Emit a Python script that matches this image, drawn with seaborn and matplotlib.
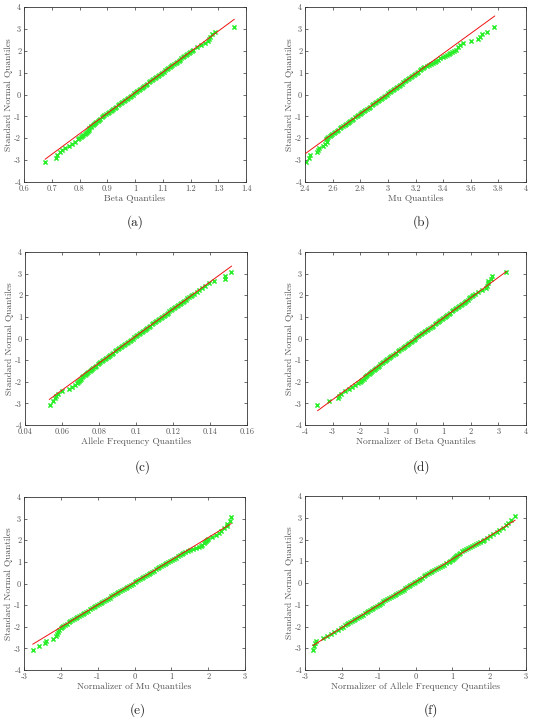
import matplotlib
matplotlib.use("Agg")
import matplotlib.pyplot as plt
import seaborn as sns

# standard normal quantiles (shared y for all six panels)
normal_q = [-3.09, -2.88, -2.75, -2.65, -2.55, -2.45, -2.35, -2.25, -2.15, -2.05,
            -1.95, -1.85, -1.75, -1.65, -1.55, -1.45, -1.35, -1.25, -1.15, -1.05,
            -0.95, -0.85, -0.75, -0.65, -0.55, -0.45, -0.35, -0.25, -0.15, -0.05,
            0.05, 0.15, 0.25, 0.35, 0.45, 0.55, 0.65, 0.75, 0.85, 0.95,
            1.05, 1.15, 1.25, 1.35, 1.45, 1.55, 1.65, 1.75, 1.85, 1.95,
            2.05, 2.15, 2.25, 2.35, 2.45, 2.55, 2.65, 2.75, 2.88, 3.09]
# extra quantiles in the dense middle of the distribution
normal_q_mid = [-2.0, -1.9, -1.8, -1.7, -1.6, -1.5, -1.4, -1.3, -1.2, -1.1,
                -1.0, -0.9, -0.8, -0.7, -0.6, -0.5, -0.4, -0.3, -0.2, -0.1,
                0.0, 0.1, 0.2, 0.3, 0.4, 0.5, 0.6, 0.7, 0.8, 0.9,
                1.0, 1.1, 1.2, 1.3, 1.4, 1.5, 1.6, 1.7, 1.8, 1.9, 2.0]

beta_q = [0.675, 0.715, 0.720, 0.729, 0.738, 0.748, 0.761, 0.772, 0.782, 0.793,
          0.804, 0.814, 0.823, 0.830, 0.836, 0.843, 0.852, 0.860, 0.869, 0.880,
          0.890, 0.901, 0.912, 0.922, 0.933, 0.944, 0.954, 0.965, 0.976, 0.986,
          0.997, 1.008, 1.018, 1.029, 1.040, 1.050, 1.061, 1.071, 1.082, 1.093,
          1.103, 1.114, 1.125, 1.135, 1.146, 1.157, 1.167, 1.178, 1.189, 1.199,
          1.210, 1.225, 1.238, 1.252, 1.262, 1.268, 1.272, 1.278, 1.290, 1.358]
beta_q_mid = [0.799, 0.809, 0.819, 0.826, 0.833, 0.840, 0.847, 0.856, 0.865, 0.874,
              0.885, 0.896, 0.906, 0.917, 0.928, 0.938, 0.949, 0.960, 0.970, 0.981,
              0.992, 1.002, 1.013, 1.024, 1.034, 1.045, 1.055, 1.066, 1.077, 1.087,
              1.096, 1.107, 1.118, 1.130, 1.141, 1.151, 1.162, 1.173, 1.183, 1.194, 1.205]

mu_q = [2.405, 2.430, 2.436, 2.490, 2.495, 2.500, 2.530, 2.545, 2.556, 2.550,
        2.568, 2.588, 2.610, 2.631, 2.653, 2.675, 2.697, 2.718, 2.740, 2.762,
        2.784, 2.806, 2.827, 2.849, 2.871, 2.893, 2.915, 2.936, 2.958, 2.980,
        3.002, 3.024, 3.046, 3.067, 3.089, 3.111, 3.133, 3.155, 3.176, 3.198,
        3.220, 3.242, 3.264, 3.300, 3.325, 3.350, 3.380, 3.415, 3.440, 3.465,
        3.490, 3.505, 3.520, 3.547, 3.600, 3.655, 3.667, 3.680, 3.720, 3.770]
mu_q_mid = [2.558, 2.578, 2.598, 2.620, 2.642, 2.664, 2.686, 2.708, 2.729, 2.751,
            2.773, 2.795, 2.816, 2.838, 2.860, 2.882, 2.904, 2.925, 2.947, 2.969,
            2.991, 3.013, 3.035, 3.057, 3.078, 3.100, 3.122, 3.144, 3.166, 3.187,
            3.209, 3.231, 3.253, 3.282, 3.312, 3.338, 3.365, 3.398, 3.428, 3.452, 3.478]

allele_q = [0.0535, 0.0551, 0.0560, 0.0568, 0.0580, 0.0600, 0.0640, 0.0655, 0.0670, 0.0680,
            0.0690, 0.0703, 0.0716, 0.0728, 0.0742, 0.0756, 0.0770, 0.0785, 0.0798, 0.0814,
            0.0830, 0.0846, 0.0862, 0.0878, 0.0894, 0.0910, 0.0926, 0.0942, 0.0958, 0.0974,
            0.0990, 0.1006, 0.1022, 0.1038, 0.1054, 0.1070, 0.1086, 0.1102, 0.1118, 0.1134,
            0.1150, 0.1166, 0.1181, 0.1197, 0.1213, 0.1229, 0.1245, 0.1261, 0.1277, 0.1295,
            0.1312, 0.1328, 0.1342, 0.1356, 0.1372, 0.1392, 0.1420, 0.1480, 0.1480, 0.1515]
allele_q_mid = [0.0685, 0.0697, 0.0710, 0.0722, 0.0735, 0.0749, 0.0763, 0.0778, 0.0792, 0.0806,
                0.0822, 0.0838, 0.0854, 0.0870, 0.0886, 0.0902, 0.0918, 0.0934, 0.0950, 0.0966,
                0.0982, 0.0998, 0.1014, 0.1030, 0.1046, 0.1062, 0.1078, 0.1094, 0.1110, 0.1126,
                0.1142, 0.1158, 0.1173, 0.1189, 0.1205, 0.1221, 0.1237, 0.1253, 0.1269, 0.1286, 0.1303]

norm_beta_q = [-3.55, -3.12, -2.80, -2.78, -2.70, -2.55, -2.42, -2.30, -2.18, -2.07,
               -1.97, -1.87, -1.78, -1.69, -1.60, -1.51, -1.42, -1.32, -1.22, -1.12,
               -1.02, -0.92, -0.81, -0.70, -0.58, -0.47, -0.37, -0.27, -0.17, -0.07,
               0.03, 0.14, 0.25, 0.36, 0.47, 0.58, 0.69, 0.80, 0.90, 1.00,
               1.10, 1.20, 1.31, 1.42, 1.53, 1.64, 1.74, 1.84, 1.94, 2.04,
               2.14, 2.28, 2.42, 2.56, 2.58, 2.62, 2.64, 2.72, 2.76, 3.28]
norm_beta_q_mid = [-2.02, -1.92, -1.83, -1.74, -1.65, -1.56, -1.47, -1.37, -1.27, -1.17,
                   -1.07, -0.97, -0.87, -0.76, -0.64, -0.52, -0.42, -0.32, -0.22, -0.12,
                   -0.02, 0.08, 0.19, 0.30, 0.41, 0.52, 0.63, 0.74, 0.85, 0.95,
                   1.05, 1.15, 1.25, 1.36, 1.47, 1.58, 1.69, 1.79, 1.89, 1.99, 2.09]

norm_mu_q = [-2.76, -2.58, -2.43, -2.40, -2.22, -2.14, -2.10, -2.07, -2.05, -2.00,
             -1.93, -1.84, -1.74, -1.65, -1.55, -1.45, -1.36, -1.257, -1.160, -1.063,
             -0.967, -0.870, -0.773, -0.677, -0.580, -0.483, -0.387, -0.290, -0.193, -0.097,
             0.000, 0.097, 0.192, 0.288, 0.385, 0.482, 0.578, 0.675, 0.772, 0.868,
             0.965, 1.062, 1.17, 1.28, 1.38, 1.50, 1.68, 1.80, 1.88, 1.94,
             2.00, 2.10, 2.22, 2.30, 2.36, 2.42, 2.50, 2.52, 2.59, 2.61]
norm_mu_q_mid = [-1.98, -1.88, -1.79, -1.69, -1.60, -1.50, -1.40, -1.31, -1.208, -1.112,
                 -1.015, -0.918, -0.822, -0.725, -0.628, -0.532, -0.435, -0.338, -0.242, -0.145,
                 -0.048, 0.048, 0.145, 0.240, 0.337, 0.433, 0.530, 0.627, 0.723, 0.820,
                 0.917, 1.013, 1.115, 1.225, 1.33, 1.44, 1.59, 1.74, 1.84, 1.91, 1.97]

norm_allele_q = [-2.79, -2.76, -2.74, -2.70, -2.52, -2.40, -2.30, -2.20, -2.11, -2.01,
                 -1.92, -1.82, -1.72, -1.63, -1.54, -1.43, -1.33, -1.24, -1.15, -1.05,
                 -0.96, -0.87, -0.77, -0.67, -0.57, -0.47, -0.37, -0.28, -0.19, -0.10,
                 -0.01, 0.09, 0.18, 0.27, 0.37, 0.46, 0.55, 0.66, 0.78, 0.90,
                 0.98, 1.04, 1.10, 1.17, 1.26, 1.36, 1.48, 1.60, 1.70, 1.82,
                 1.93, 2.02, 2.11, 2.20, 2.28, 2.37, 2.45, 2.52, 2.60, 2.71]
norm_allele_q_mid = [-1.96, -1.87, -1.77, -1.68, -1.58, -1.48, -1.38, -1.28, -1.19, -1.10,
                     -1.00, -0.91, -0.82, -0.72, -0.62, -0.52, -0.42, -0.32, -0.23, -0.14,
                     -0.05, 0.04, 0.13, 0.22, 0.32, 0.41, 0.50, 0.60, 0.72, 0.84,
                     0.94, 1.01, 1.07, 1.13, 1.21, 1.31, 1.42, 1.54, 1.65, 1.76, 1.87]

# reference line end points (x, y)
ref_lines = {
    "a": ([0.676, 1.358], [-2.96, 3.44]),
    "b": ([2.405, 3.774], [-2.69, 3.59]),
    "c": ([0.0531, 0.1517], [-2.82, 3.35]),
    "d": ([-3.545, 3.30], [-3.34, 3.11]),
    "e": ([-2.764, 2.625], [-2.81, 2.77]),
    "f": ([-2.79, 2.707], [-2.88, 2.89]),
}

x_labels = {
    "a": "Beta Quantiles",
    "b": "Mu Quantiles",
    "c": "Allele Frequency Quantiles",
    "d": "Normalizer of Beta Quantiles",
    "e": "Normalizer of Mu Quantiles",
    "f": "Normalizer of Allele Frequency Quantiles",
}

x_ticks = {
    "a": [0.6, 0.7, 0.8, 0.9, 1.0, 1.1, 1.2, 1.3, 1.4],
    "b": [2.4, 2.6, 2.8, 3.0, 3.2, 3.4, 3.6, 3.8, 4.0],
    "c": [0.04, 0.06, 0.08, 0.10, 0.12, 0.14, 0.16],
    "d": [-4, -3, -2, -1, 0, 1, 2, 3, 4],
    "e": [-3, -2, -1, 0, 1, 2, 3],
    "f": [-3, -2, -1, 0, 1, 2, 3],
}
x_ticklabels = {
    "a": ["0.6", "0.7", "0.8", "0.9", "1", "1.1", "1.2", "1.3", "1.4"],
    "b": ["2.4", "2.6", "2.8", "3", "3.2", "3.4", "3.6", "3.8", "4"],
    "c": ["0.04", "0.06", "0.08", "0.1", "0.12", "0.14", "0.16"],
    "d": ["-4", "-3", "-2", "-1", "0", "1", "2", "3", "4"],
    "e": ["-3", "-2", "-1", "0", "1", "2", "3"],
    "f": ["-3", "-2", "-1", "0", "1", "2", "3"],
}
y_ticks = [-4, -3, -2, -1, 0, 1, 2, 3, 4]
y_ticklabels = ["-4", "-3", "-2", "-1", "0", "1", "2", "3", "4"]

samples = {"a": (beta_q, beta_q_mid), "b": (mu_q, mu_q_mid),
           "c": (allele_q, allele_q_mid), "d": (norm_beta_q, norm_beta_q_mid),
           "e": (norm_mu_q, norm_mu_q_mid), "f": (norm_allele_q, norm_allele_q_mid)}

sns.set_style("ticks")
plt.rcParams["font.family"] = ["cmr10", "DejaVu Serif"]
plt.rcParams["axes.unicode_minus"] = False
plt.rcParams["mathtext.fontset"] = "cm"

W, H = 537, 719
fig = plt.figure(figsize=(W / 100, H / 100), dpi=100)

# axes boxes in pixels: left, top, right, bottom
boxes = {
    "a": (24, 7, 246, 182),
    "b": (305, 7, 526, 182),
    "c": (25, 252, 247, 425),
    "d": (305, 252, 526, 425),
    "e": (24, 497, 245, 670),
    "f": (305, 496, 526, 670),
}
captions = {"a": (135, 222), "b": (422, 222), "c": (143, 467),
            "d": (422, 467), "e": (138, 710), "f": (431, 710)}

for key in ["a", "b", "c", "d", "e", "f"]:
    l, t, r, b = boxes[key]
    ax = fig.add_axes([l / W, 1 - b / H, (r - l) / W, (b - t) / H])
    xs, xs_mid = samples[key]
    sns.scatterplot(x=xs + xs_mid, y=normal_q + normal_q_mid, ax=ax, marker="x",
                    color="#2aee2a", s=9, linewidth=1.1, zorder=2)
    lx, ly = ref_lines[key]
    sns.lineplot(x=lx, y=ly, ax=ax, color="#ee1111", linewidth=0.7, zorder=3)
    ax.set_xlim(x_ticks[key][0], x_ticks[key][-1])
    ax.set_ylim(-4, 4)
    ax.set_xticks(x_ticks[key])
    ax.set_xticklabels(x_ticklabels[key])
    ax.set_yticks(y_ticks)
    ax.set_yticklabels(y_ticklabels)
    ax.tick_params(direction="in", length=2.5, width=0.5, labelsize=6,
                   top=True, right=True, pad=2, colors="#333333",
                   labelcolor="#555555")
    for sp in ax.spines.values():
        sp.set_visible(True)
        sp.set_linewidth(0.6)
        sp.set_color("#333333")
    ax.set_xlabel(x_labels[key], fontsize=6.8, color="#555555", labelpad=1)
    ax.set_ylabel("Standard Normal Quantiles", fontsize=6.8, color="#555555", labelpad=1)
    cx, cy = captions[key]
    fig.text(cx / W, 1 - cy / H, "(" + key + ")", ha="center", va="center",
             fontsize=9.5, color="#222222")

fig.savefig("out.png", dpi=100)
